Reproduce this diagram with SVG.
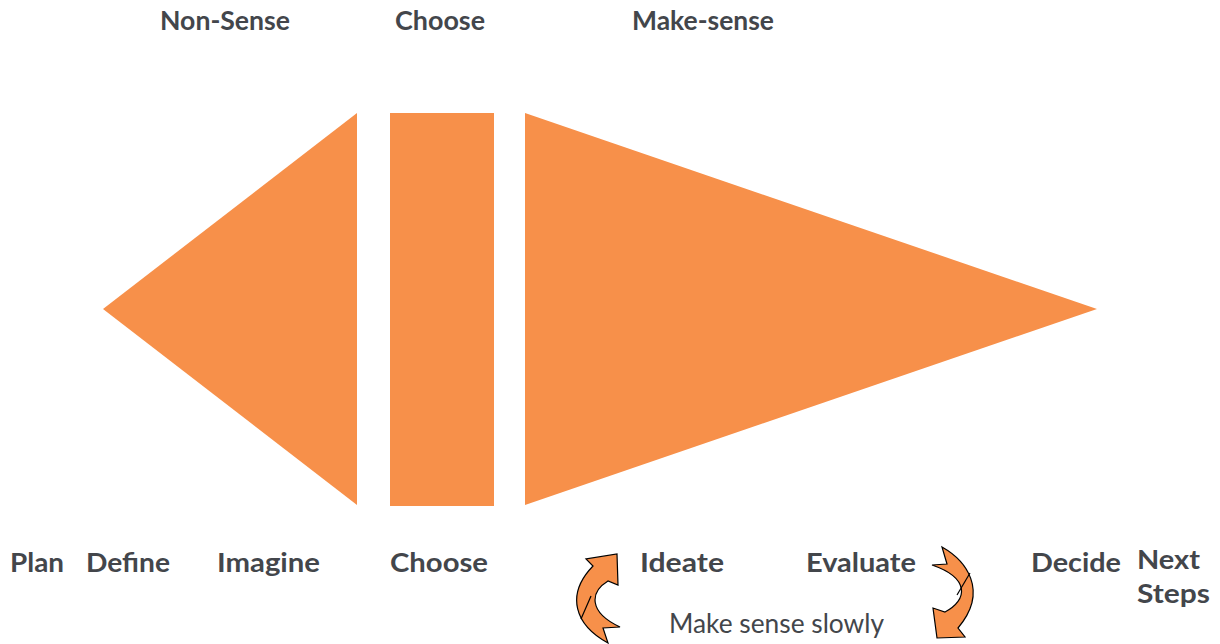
<svg xmlns="http://www.w3.org/2000/svg" width="1220" height="644" viewBox="0 0 1220 644">
<style>
.shape{fill:#F7904A;}
.lbl{font-family:Lato,"Noto Sans",sans-serif;font-weight:700;font-size:26px;fill:#43464b;}
.sub{font-family:Lato,"Noto Sans",sans-serif;font-weight:400;font-size:26px;fill:#43464b;}
.arr{fill:#F7904A;stroke:#000;stroke-width:1.2;stroke-linejoin:miter;}
.fold{fill:none;stroke:#000;stroke-width:1.2;}
</style>
<rect width="1220" height="644" fill="#fff"/>
<g id="nonsense"><polygon class="shape" points="103,309 357,113 357,505"/></g>
<g id="choose"><rect class="shape" x="390" y="113" width="104" height="393"/></g>
<g id="makesense"><polygon class="shape" points="525,113 525,505 1097,309"/></g>
<g id="headers">
<text class="lbl" x="160" y="30" textLength="130" lengthAdjust="spacingAndGlyphs">Non-Sense</text>
<text class="lbl" x="395" y="30" textLength="90" lengthAdjust="spacingAndGlyphs">Choose</text>
<text class="lbl" x="632" y="30" textLength="142" lengthAdjust="spacingAndGlyphs">Make-sense</text>
</g>
<g id="steps">
<text class="lbl" x="10" y="572" textLength="54" lengthAdjust="spacingAndGlyphs">Plan</text>
<text class="lbl" x="86" y="572" textLength="84" lengthAdjust="spacingAndGlyphs">Define</text>
<text class="lbl" x="217" y="572" textLength="103" lengthAdjust="spacingAndGlyphs">Imagine</text>
<text class="lbl" x="390" y="572" textLength="98" lengthAdjust="spacingAndGlyphs">Choose</text>
<text class="lbl" x="640" y="572" textLength="84" lengthAdjust="spacingAndGlyphs">Ideate</text>
<text class="lbl" x="806" y="572" textLength="110" lengthAdjust="spacingAndGlyphs">Evaluate</text>
<text class="lbl" x="1031" y="572" textLength="90" lengthAdjust="spacingAndGlyphs">Decide</text>
<text class="lbl" x="1137" y="569" textLength="63" lengthAdjust="spacingAndGlyphs">Next</text>
<text class="lbl" x="1137" y="603" textLength="73" lengthAdjust="spacingAndGlyphs">Steps</text>
<text class="sub" x="669" y="633" textLength="215" lengthAdjust="spacingAndGlyphs">Make sense slowly</text>
</g>
<g id="connectors">
<path class="arr" d="M617,554 L618,585 L608,581 C590,592 588,612 620,627 L603,628 L608,643 C575,625 565,595 593,566 L586,559 Z"/>
<path class="fold" d="M591,596 L581,619"/>
<path class="arr" d="M942,547 C965,560 990,590 958,628 L965,637 L937,638 L933,608 L945,612 C968,600 970,578 932,565 L947,564 Z"/>
<path class="fold" d="M970,573 L957,595"/>
</g>
</svg>
